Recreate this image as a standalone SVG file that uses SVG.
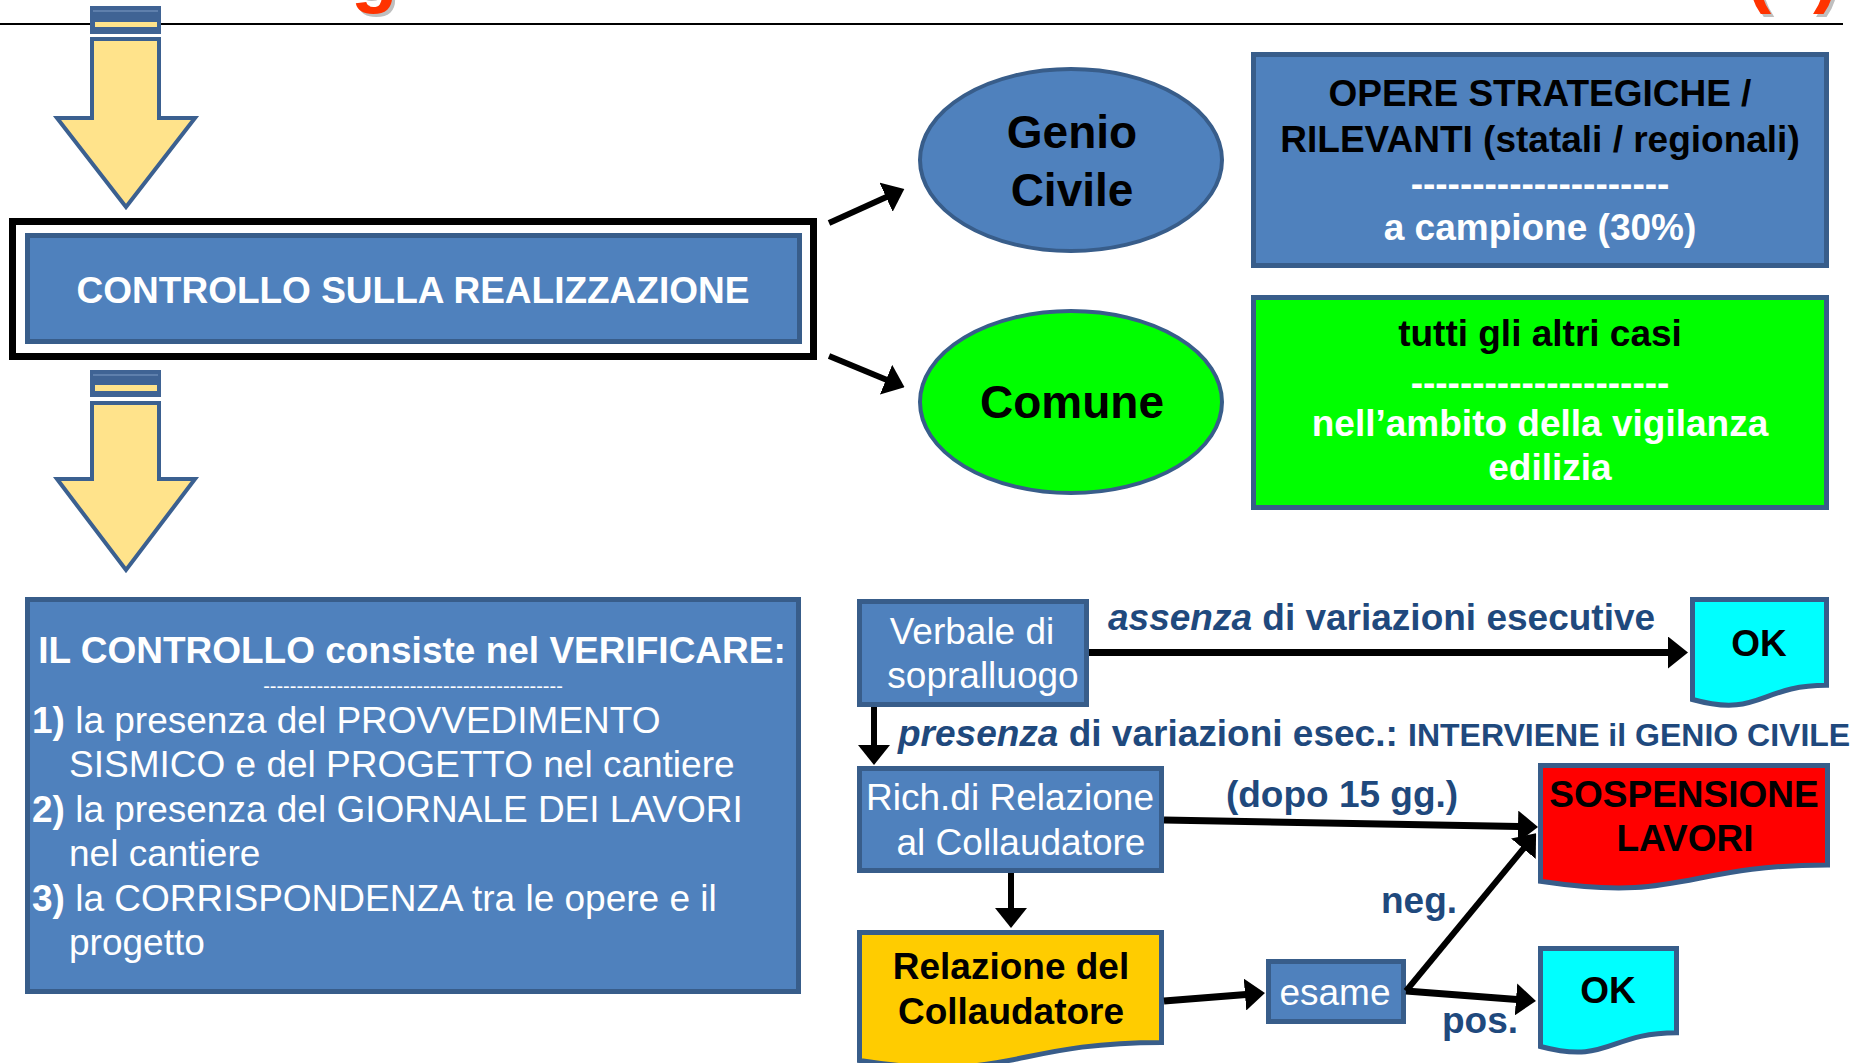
<svg xmlns="http://www.w3.org/2000/svg" width="1863" height="1063" viewBox="0 0 1863 1063">
<style>
text{font-family:"Liberation Sans",Arial,sans-serif;}
.b{font-weight:bold;}
.w{fill:#FFFFFF;}
.k{fill:#000000;}
.d{fill:#1F497D;}
.s37{font-size:37px;}
.blue{fill:#4F81BD;stroke:#385D8A;stroke-width:5;}
.green{fill:#00FF00;stroke:#385D8A;stroke-width:5;}
.arrowbody{fill:#FFE38B;stroke:#3B6090;stroke-width:4;}
.cap{fill:#3F6394;}
.conn{stroke:#000;fill:none;}
.title{fill:#FF3300;font-weight:bold;font-size:76px;}
.shadow{fill:#BFBFBF;font-weight:bold;font-size:76px;}
</style>
<defs>
<marker id="ah" markerUnits="userSpaceOnUse" viewBox="0 0 20 32" markerWidth="20" markerHeight="32" refX="1" refY="16" orient="auto">
<path d="M0,0 L20,16 L0,32 Z" fill="#000"/>
</marker>
</defs>
<rect width="1863" height="1063" fill="#FFFFFF"/>

<!-- title fragments -->
<g id="title">
<text class="shadow" x="354" y="1">g</text>
<text class="title" x="351" y="-2">g</text>
<text class="shadow" x="1749" y="1">(</text>
<text class="title" x="1746" y="-2">(</text>
<text class="shadow" x="1816" y="1">)</text>
<text class="title" x="1813" y="-2">)</text>
</g>
<line x1="0" y1="24" x2="1843" y2="24" stroke="#000" stroke-width="2"/>

<!-- big down arrows -->
<g id="arrow-top">
<rect class="cap" x="90" y="6" width="71" height="28"/>
<line x1="93" y1="11" x2="158" y2="11" stroke="#7F9CC4" stroke-width="1"/>
<rect x="95" y="22" width="62" height="5" fill="#FFE38B"/>
<path class="arrowbody" d="M92,39 H159 V118 H195 L126,207 L57,118 H92 Z"/>
</g>
<g id="arrow-mid">
<rect class="cap" x="90" y="370" width="71" height="27"/>
<line x1="93" y1="375" x2="158" y2="375" stroke="#7F9CC4" stroke-width="1"/>
<rect x="95" y="385" width="62" height="6" fill="#FFE38B"/>
<path class="arrowbody" d="M92,403 H159 V479 H195 L126,570 L57,479 H92 Z"/>
</g>

<g id="controllo">
<rect x="12.5" y="221.5" width="801" height="135" fill="#FFFFFF" stroke="#000" stroke-width="7"/>
<rect class="blue" x="27.5" y="235.5" width="772" height="106"/>
<text class="b w s37" x="413" y="303" text-anchor="middle">CONTROLLO SULLA REALIZZAZIONE</text>
</g>

<g id="genio">
<ellipse cx="1071" cy="160" rx="151" ry="91" fill="#4F81BD" stroke="#385D8A" stroke-width="4"/>
<text class="b k" font-size="46" x="1072" y="148" text-anchor="middle">Genio</text>
<text class="b k" font-size="46" x="1072" y="206" text-anchor="middle">Civile</text>
</g>
<g id="comune">
<ellipse cx="1071" cy="402" rx="151" ry="91" fill="#00FF00" stroke="#385D8A" stroke-width="4"/>
<text class="b k" font-size="46" x="1072" y="418" text-anchor="middle">Comune</text>
</g>

<g id="opere">
<rect class="blue" x="1253.5" y="54.5" width="573" height="211"/>
<text class="b k s37" x="1540" y="106" text-anchor="middle">OPERE STRATEGICHE /</text>
<text class="b k s37" x="1540" y="152" text-anchor="middle">RILEVANTI (statali / regionali)</text>
<text class="b w s37" x="1540" y="196" text-anchor="middle">---------------------</text>
<text class="b w s37" x="1540" y="240" text-anchor="middle">a campione (30%)</text>
</g>
<g id="altri">
<rect class="green" x="1253.5" y="297.5" width="573" height="210"/>
<text class="b k s37" x="1540" y="346" text-anchor="middle">tutti gli altri casi</text>
<text class="b w s37" x="1540" y="395" text-anchor="middle">---------------------</text>
<text class="b w s37" x="1540" y="436" text-anchor="middle">nell’ambito della vigilanza</text>
<text class="b w s37" x="1550" y="480" text-anchor="middle">edilizia</text>
</g>

<g id="verifica">
<rect class="blue" x="27.5" y="599.5" width="771" height="392"/>
<text class="b w s37" x="412" y="663" text-anchor="middle">IL CONTROLLO consiste nel VERIFICARE:</text>
<text class="w" font-size="20" x="413" y="693" text-anchor="middle">---------------------------------------------</text>
<text class="w s37" x="32" y="733"><tspan class="b">1)</tspan> la presenza del PROVVEDIMENTO</text>
<text class="w s37" x="69" y="777">SISMICO e del PROGETTO nel cantiere</text>
<text class="w s37" x="32" y="822"><tspan class="b">2)</tspan> la presenza del GIORNALE DEI LAVORI</text>
<text class="w s37" x="69" y="866">nel cantiere</text>
<text class="w s37" x="32" y="911"><tspan class="b">3)</tspan> la CORRISPONDENZA tra le opere e il</text>
<text class="w s37" x="69" y="955">progetto</text>
</g>

<g id="verbale">
<rect class="blue" x="859.5" y="601.5" width="227" height="103"/>
<text class="w s37" x="972" y="644" text-anchor="middle">Verbale di</text>
<text class="w s37" x="983" y="688" text-anchor="middle">sopralluogo</text>
</g>
<g id="ok1">
<path d="M1692.5,599.5 H1826.5 V685.3 C1759.5,685.3 1759.5,718 1692.5,699.5 Z" fill="#00FFFF" stroke="#385D8A" stroke-width="5"/>
<text class="b k s37" x="1759" y="656" text-anchor="middle">OK</text>
</g>
<g id="richiesta">
<rect class="blue" x="859.5" y="768.5" width="302" height="102"/>
<text class="w s37" x="1010" y="810" text-anchor="middle">Rich.di Relazione</text>
<text class="w s37" x="1021" y="855" text-anchor="middle">al Collaudatore</text>
</g>
<g id="sospensione">
<path d="M1540.5,765.5 H1827.5 V865 C1684,865 1684,903 1540.5,881.3 Z" fill="#FF0000" stroke="#385D8A" stroke-width="5"/>
<text class="b k s37" x="1684" y="807" text-anchor="middle">SOSPENSIONE</text>
<text class="b k s37" x="1685" y="851" text-anchor="middle">LAVORI</text>
</g>
<g id="relazione">
<path d="M859.5,932.5 H1161.5 V1042.4 C1010.5,1042.4 1010.5,1084 859.5,1060.5 Z" fill="#FFCC00" stroke="#385D8A" stroke-width="5"/>
<text class="b k s37" x="1011" y="979" text-anchor="middle">Relazione del</text>
<text class="b k s37" x="1011" y="1024" text-anchor="middle">Collaudatore</text>
</g>
<g id="esame">
<rect class="blue" x="1268.5" y="961.5" width="135" height="60"/>
<text class="w s37" x="1335" y="1005" text-anchor="middle">esame</text>
</g>
<g id="ok2">
<path d="M1540.5,948.5 H1676.5 V1032.7 C1608.5,1032.7 1608.5,1064.8 1540.5,1046.5 Z" fill="#00FFFF" stroke="#385D8A" stroke-width="5"/>
<text class="b k s37" x="1608" y="1003" text-anchor="middle">OK</text>
</g>

<g id="connectors">
<line class="conn" x1="829" y1="223" x2="887" y2="196.8" stroke-width="6" marker-end="url(#ah)"/>
<line class="conn" x1="829" y1="356" x2="887" y2="380" stroke-width="6" marker-end="url(#ah)"/>
<line class="conn" x1="1089" y1="652.5" x2="1669" y2="652.5" stroke-width="7" marker-end="url(#ah)"/>
<line class="conn" x1="874" y1="707" x2="874" y2="746" stroke-width="6" marker-end="url(#ah)"/>
<line class="conn" x1="1164" y1="820" x2="1519" y2="826.6" stroke-width="7" marker-end="url(#ah)"/>
<line class="conn" x1="1011" y1="873" x2="1011" y2="909" stroke-width="6" marker-end="url(#ah)"/>
<line class="conn" x1="1164" y1="1001" x2="1246" y2="994.5" stroke-width="7" marker-end="url(#ah)"/>
<line class="conn" x1="1406" y1="991" x2="1524" y2="848" stroke-width="6" marker-end="url(#ah)"/>
<line class="conn" x1="1406" y1="991" x2="1517" y2="999.5" stroke-width="7" marker-end="url(#ah)"/>
</g>

<g id="labels">
<text class="b d s37" x="1108" y="630"><tspan font-style="italic">assenza</tspan> di variazioni esecutive</text>
<text class="b d s37" x="898" y="746"><tspan font-style="italic">presenza</tspan> di variazioni esec.: <tspan font-size="32">INTERVIENE il GENIO CIVILE</tspan></text>
<text class="b d s37" x="1342" y="807" text-anchor="middle">(dopo 15 gg.)</text>
<text class="b d s37" x="1419" y="913" text-anchor="middle">neg.</text>
<text class="b d s37" x="1480" y="1033" text-anchor="middle">pos.</text>
</g>
</svg>
